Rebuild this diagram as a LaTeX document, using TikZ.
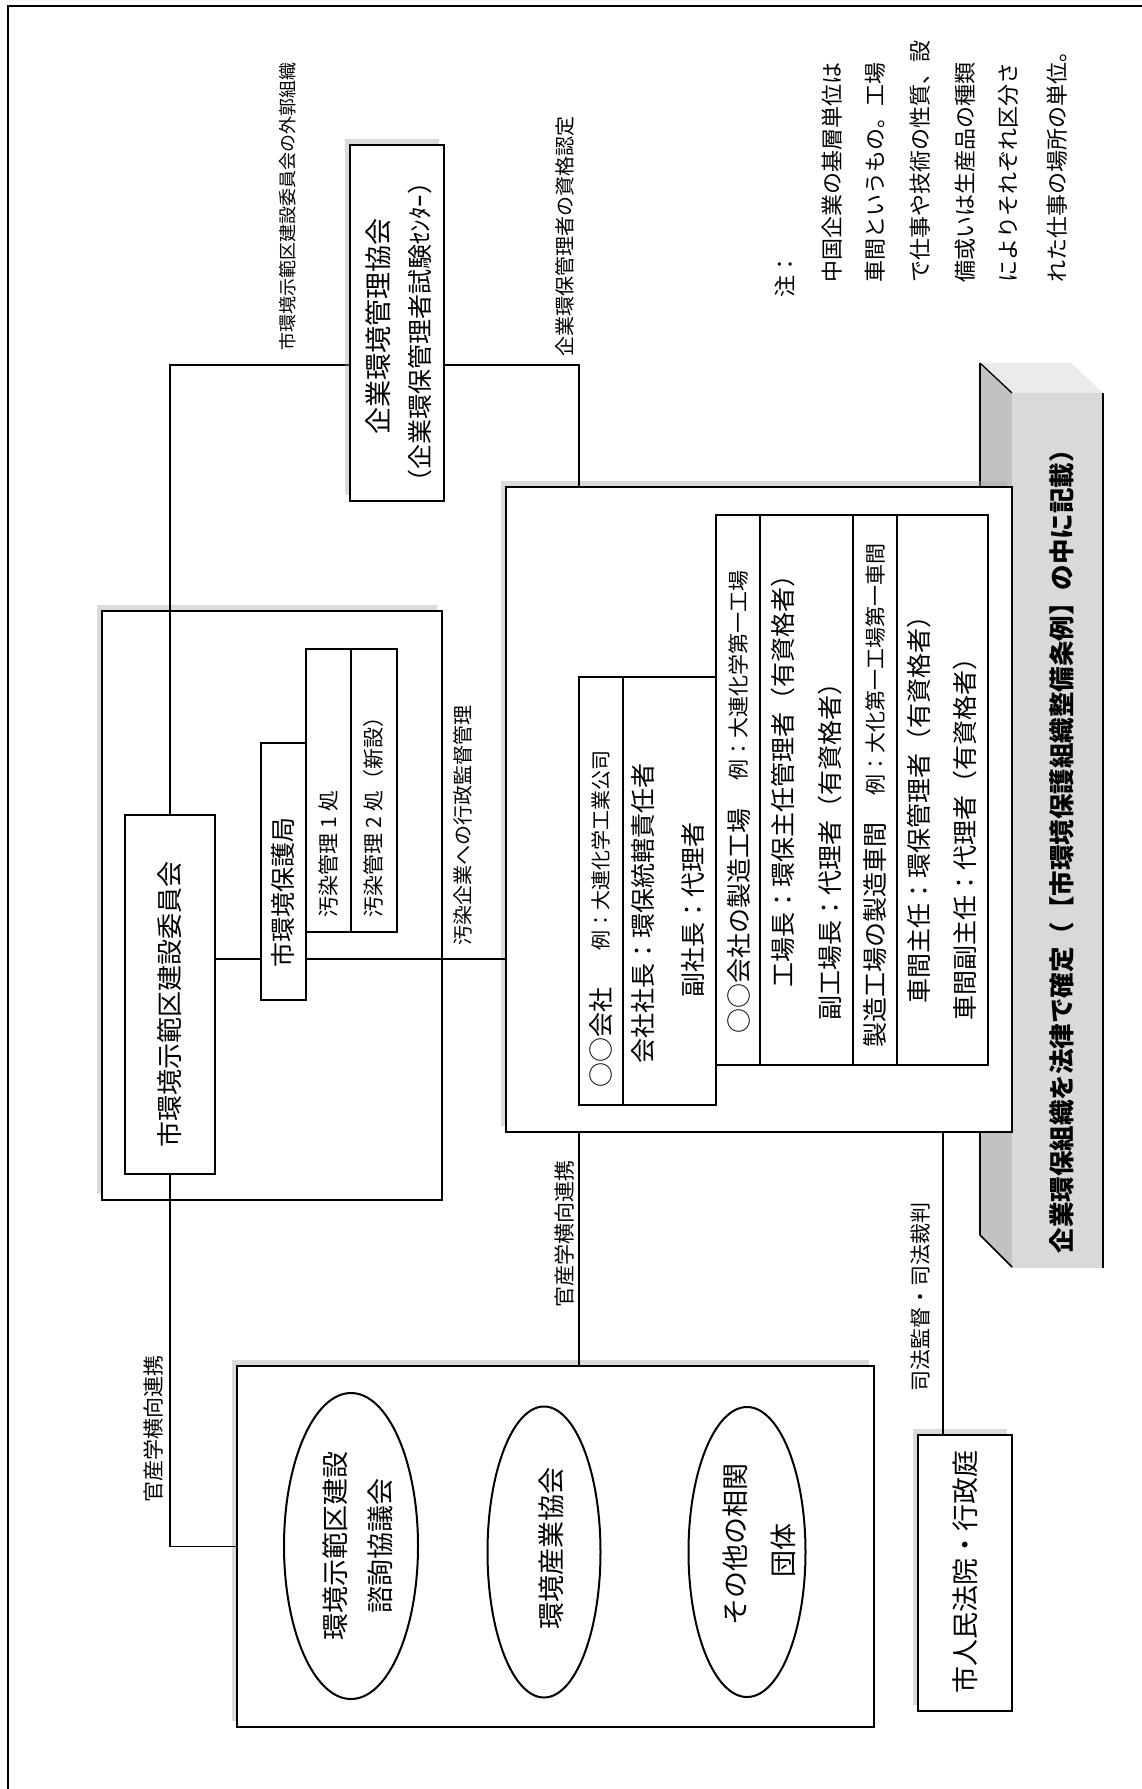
\documentclass[tikz,border=0pt]{standalone}
\usepackage{fontspec}
\setmainfont{Noto Sans CJK JP}
\usetikzlibrary{shapes.geometric,fit,shadows}
\pgfdeclarelayer{back}
\pgfdeclarelayer{mid}
\pgfsetlayers{back,mid,main}
\newcommand\fsz[1]{\fontsize{#1}{#1}\selectfont}
\begin{document}
\begin{tikzpicture}[x=1pt,y=-1pt,
  box/.style={draw, line width=2.2pt, fill=white, inner sep=0pt, outer sep=0pt},
  sh/.style={drop shadow={shadow xshift=-5pt, shadow yshift=6pt, fill=gray!70, opacity=.4}},
  conn/.style={line width=1.8pt},
  rt/.style={rotate=90, inner sep=0pt, outer sep=0pt},
  st/.style={rt, anchor=west},
  oval/.style={ellipse, draw, line width=2pt, fill=white, inner sep=0pt},
]
\useasboundingbox (0,0) rectangle (1142,1789);

\begin{pgfonlayer}{back}
\fill[white] (0,0) rectangle (1142,1789);
\draw[line width=1.8pt] (1142,6) -- (8,6) -- (8,1789);
% banner (3D ribbon)
\fill[gray!16] (980,363) -- (1071,363) -- (1103,393) -- (1012,393) -- cycle;
\fill[gray!48] (980,363) -- (1012,393) -- (1012,1267) -- (980,1235) -- cycle;
\fill[gray!30] (1012,393) rectangle (1103,1268);
\draw[line width=2.6pt] (980,363) -- (980,1235);
\draw[line width=1.3pt] (980,363) -- (1012,393);
\draw[line width=1.6pt] (980,1235) -- (1012,1267);
\draw[line width=2.6pt] (1103,393) -- (1103,1268);
% outer boxes
\node[box, sh, fit={(102,611) (442,1200)}] (comm) {};
\node[box, sh, fit={(506,487) (1012,1132)}] (company) {};
\node[box, sh, fit={(237,1366) (874,1727)}] (assoc) {};
\node[box, sh, fit={(918,1435) (1012,1711)}] (court) {};
\end{pgfonlayer}

% inner boxes
\node[box, sh, fit={(350,145) (444,501)}] (kyokai) {};
\node[box, fit={(125,815) (215,1174)}] (inner) {};
\node[box, fit={(261,743) (306,1000)}] (hogo) {};
\node[box, fit={(306,649) (351,932)}] (osen1) {};
\node[box, fit={(351,649) (397,932)}] (osen2) {};
\node[box, fit={(579,677) (716,1105)}] (ctab) {};
\node[box, fit={(716,515) (988,1065)}] (ftab) {};
\coordinate (d1) at (623,0);
\coordinate (d2) at (760,0);
\coordinate (d3) at (853,0);
\coordinate (d4) at (897,0);
\draw[line width=2pt] (ctab.north -| d1) -- (ctab.south -| d1);
\draw[line width=2pt] (ftab.north -| d2) -- (ftab.south -| d2);
\draw[line width=2pt] (ftab.north -| d3) -- (ftab.south -| d3);
\draw[line width=2pt] (ftab.north -| d4) -- (ftab.south -| d4);

\node[oval, minimum width=134, minimum height=306] (e1) at (351,1546) {};
\node[oval, minimum width=113, minimum height=291] (e2) at (544,1552) {};
\node[oval, minimum width=117, minimum height=290] (e3) at (747,1552) {};

% connectors
\coordinate (cR) at (579,365);
\coordinate (hy) at (0,959);
\coordinate (cc) at (943,0);
\begin{pgfonlayer}{mid}
\draw[conn] (inner.north) |- (cR) -- (company.north -| cR);
\draw[conn] (inner.east |- hy) -- (company.west |- hy);
\draw[conn] (inner.south) |- (assoc.west);
\draw[conn] (company.south -| cR) -- (assoc.north -| cR);
\draw[conn] (company.south -| cc) -- (court.north -| cc);
\end{pgfonlayer}

% texts
\node[st, font=\fsz{18}] (lb1) at (288,350) {市環境示範区建設委員会の外郭組織};
\node[st, font=\fsz{20}] (lb2) at (565,356) {企業環保管理者の資格認定};
\node[rt, font=\fsz{27}] (t1) at (378,326) {企業環境管理協会};
\node[rt, font=\fsz{25}] (t2) at (420,332) {（企業環保管理者試験ｾﾝﾀｰ）};
\node[st, font=\fsz{26}] (t3) at (170,1147) {市環境示範区建設委員会};
\node[st, font=\fsz{25}] (t4) at (283,967) {市環境保護局};
\node[st, font=\fsz{21}] (t5) at (328,917) {汚染管理 1 処};
\node[st, font=\fsz{21}] (t6) at (374,917) {汚染管理 2 処（新設）};
\node[st, font=\fsz{20}] (lb3) at (463,945) {汚染企業への行政監督管理};

\node[st, font=\fsz{25}] (c1) at (601,1087) {○○会社};
\node[st, font=\fsz{20}] (c1b) at (601,950) {例：大連化学工業公司};
\node[st, font=\fsz{25}] (c2) at (643,1063) {会社社長：環保統轄責任者};
\node[st, font=\fsz{25}] (c3) at (693,997) {副社長：代理者};
\node[st, font=\fsz{25}] (f1) at (739,1033) {○○会社の製造工場};
\node[st, font=\fsz{21}] (f1b) at (739,780) {例：大連化学第一工場};
\node[st, font=\fsz{25}] (f2) at (783,987) {工場長：環保主任管理者（有資格者）};
\node[st, font=\fsz{25}] (f3) at (830,1020) {副工場長：代理者（有資格者）};
\node[st, font=\fsz{25}] (f4) at (875,1047) {製造工場の製造車間};
\node[st, font=\fsz{21}] (f4b) at (875,795) {例：大化第一工場第一車間};
\node[st, font=\fsz{25}] (f5) at (919,1003) {車間主任：環保管理者（有資格者）};
\node[st, font=\fsz{25}] (f6) at (965,1020) {車間副主任：代理者（有資格者）};

\node[rt, font=\fsz{27}] (e1a) at (335,1546) {環境示範区建設};
\node[rt, font=\fsz{27}] (e1b) at (380,1546) {諮詢協議会};
\node[rt, font=\fsz{27}] (e2a) at (551,1548) {環境産業協会};
\node[rt, font=\fsz{27}] (e3a) at (735,1544) {その他の相関};
\node[rt, font=\fsz{27}] (e3b) at (783,1550) {団体};
\node[rt, font=\fsz{27}] (ct) at (965,1572) {市人民法院・行政庭};

\node[st, font=\fsz{21}] (lb4) at (153,1502) {官産学横向連携};
\node[st, font=\fsz{21}] (lb5) at (564,1307) {官産学横向連携};
\node[st, font=\fsz{21}] (lb6) at (921,1391) {司法監督・司法裁判};

\node[st, font=\fsz{22}] (n0) at (785,297) {注：};
\node[st, font=\fsz{22}] (n1) at (832,282) {中国企業の基層単位は};
\node[st, font=\fsz{22}] (n2) at (875,282) {車間というもの。工場};
\node[st, font=\fsz{22}] (n3) at (920,282) {で仕事や技術の性質、設};
\node[st, font=\fsz{22}] (n4) at (965,282) {備或いは生産品の種類};
\node[st, font=\fsz{22}] (n5) at (1008,282) {によりそれぞれ区分さ};
\node[st, font=\fsz{22}] (n6) at (1057,282) {れた仕事の場所の単位。};

\node[st, font=\fsz{25.5}\bfseries] (ban) at (1062,1253) {企業環保組織を法律で確定（【市環境保護組織整備条例】の中に記載）};
\end{tikzpicture}
\end{document}
